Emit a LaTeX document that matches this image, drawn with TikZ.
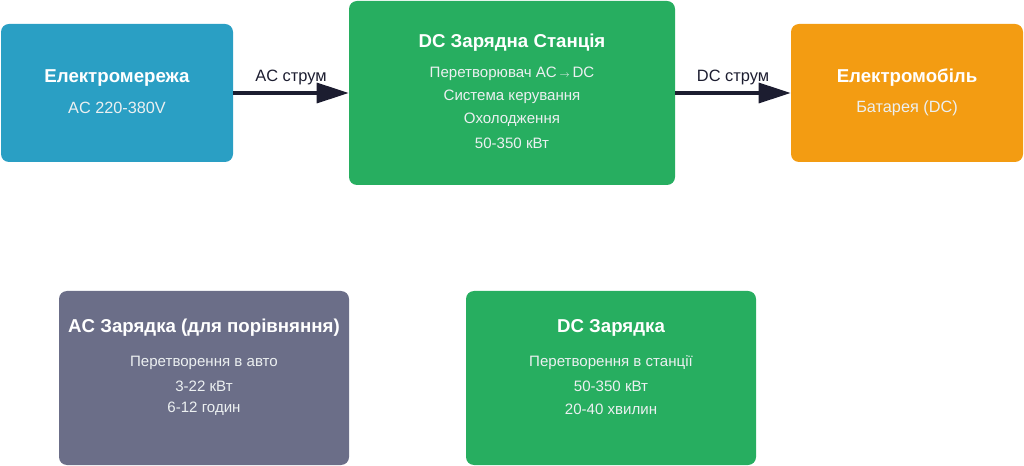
\documentclass[tikz,border=0pt]{standalone}
\usepackage{fontspec}
\setmainfont{Liberation Sans}
\usepackage{tikz}
\usetikzlibrary{arrows.meta}
\definecolor{gridBlue}{HTML}{2A9FC4}
\definecolor{stationGreen}{HTML}{27AE60}
\definecolor{carOrange}{HTML}{F39C12}
\definecolor{acGrey}{HTML}{6B6E88}
\definecolor{arrowDark}{HTML}{1C1D30}
\definecolor{subWhite}{HTML}{ECF0F1}

\begin{document}
\begin{tikzpicture} [
    x=0.75pt, y=-0.75pt,
    edge/.style={-{Triangle[length=24pt, width=15pt]}, line width=2.4pt, color=arrowDark},
    block/.style={rectangle, rounded corners=6pt, draw=none, inner sep=0pt},
    title/.style={text=white, yshift=-1.5pt, font=\fontsize{14}{16}\selectfont\bfseries},
    sub/.style={text=subWhite, yshift=-1.5pt, font=\fontsize{12.2}{14}\selectfont},
    line/.style={text=subWhite, yshift=-1.5pt, font=\fontsize{11.3}{13}\selectfont},
    edgeLabel/.style={text=arrowDark, yshift=-1pt, font=\fontsize{12.3}{14}\selectfont}
]

\useasboundingbox (0, 0) rectangle (1024, 466);

\node[block, fill=gridBlue, minimum width=174pt, minimum height=103.5pt] (grid) at (117, 93) {};
\node[title] (grid_t) at (117, 76) {Електромережа};
\node[sub] (grid_s) at (117, 106) {AC 220-380V};

\node[block, fill=stationGreen, minimum width=244.5pt, minimum height=138pt] (station) at (512, 93) {};
\node[title] (station_t) at (512, 41) {DC Зарядна Станція};
\node[line] (station_s1) at (512, 72) {Перетворювач AC\,{\fontsize{7.5}{9}\selectfont$\rightarrow$}\,DC};
\node[line] (station_s2) at (512, 95) {Система керування};
\node[line] (station_s3) at (512, 118) {Охолодження};
\node[line] (station_s4) at (512, 141) {50-350 кВт};

\node[block, fill=carOrange, minimum width=174pt, minimum height=103.5pt] (car) at (907, 93) {};
\node[title] (car_t) at (907, 76) {Електромобіль};
\node[sub] (car_s) at (907, 106) {Батарея (DC)};

\draw[edge] (grid.east) -- (station.west);
\node[edgeLabel] (ac_label) at (291, 76) {AC струм};

\draw[edge] (station.east) -- (car.west);
\node[edgeLabel] (dc_label) at (733, 76) {DC струм};

\node[block, fill=acGrey, minimum width=217.5pt, minimum height=130.5pt] (ac_cmp) at (204, 378) {};
\node[title] (ac_cmp_t) at (204, 326) {AC Зарядка (для порівняння)};
\node[line] (ac_cmp_s1) at (204, 361) {Перетворення в авто};
\node[line] (ac_cmp_s2) at (204, 384) {3-22 кВт};
\node[line] (ac_cmp_s3) at (204, 407) {6-12 годин};

\node[block, fill=stationGreen, minimum width=217.5pt, minimum height=130.5pt] (dc_cmp) at (611, 378) {};
\node[title] (dc_cmp_t) at (611, 326) {DC Зарядка};
\node[line] (dc_cmp_s1) at (611, 361) {Перетворення в станції};
\node[line] (dc_cmp_s2) at (611, 384) {50-350 кВт};
\node[line] (dc_cmp_s3) at (611, 407) {20-40 хвилин};

\end{tikzpicture}
\end{document}
